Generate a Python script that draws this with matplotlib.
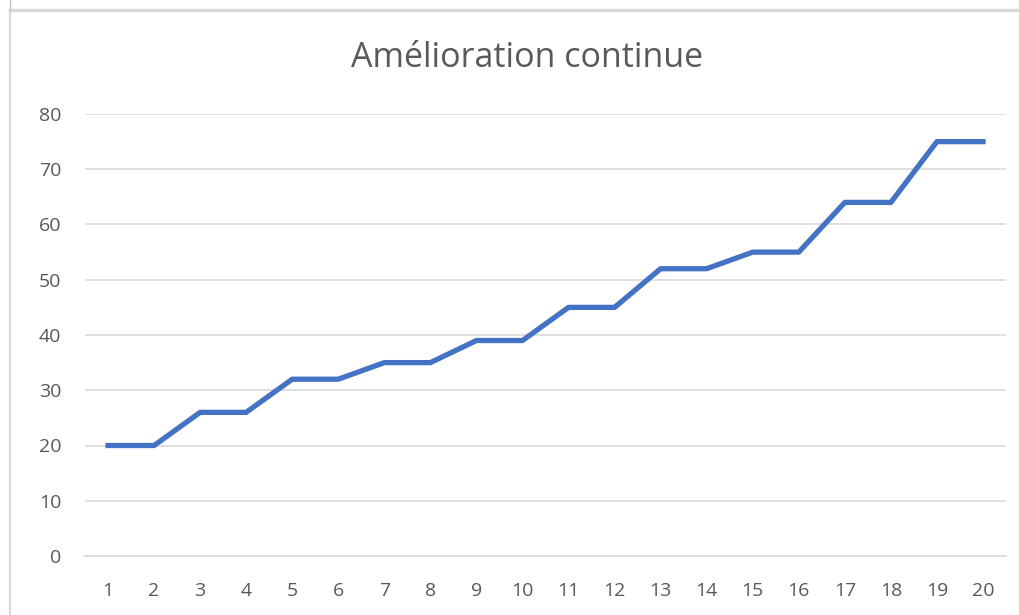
import matplotlib.pyplot as plt
from matplotlib.lines import Line2D

plt.rcParams['font.family'] = ['Open Sans', 'DejaVu Sans']

periods = list(range(1, 21))
scores = [20, 20, 26, 26, 32, 32, 35, 35, 39, 39,
          45, 45, 52, 52, 55, 55, 64, 64, 75, 75]
y_ticks = [0, 10, 20, 30, 40, 50, 60, 70, 80]

fig = plt.figure(figsize=(10.2, 6.15), dpi=100)
ax = fig.add_axes([85 / 1020, 1 - 556 / 615, 921 / 1020, (556 - 114) / 615])

ax.plot(periods, scores, color='#4472C4', linewidth=3.8, solid_joinstyle='round')

ax.set_xlim(0.5, 20.5)
ax.set_ylim(0, 80)
ax.set_xticks(periods)
ax.set_yticks(y_ticks)
ax.tick_params(length=0, labelsize=14, colors='#595959', pad=19)
ax.tick_params(axis='y', pad=17)
ax.grid(axis='y', color='#d9d9d9', linewidth=1.2)
ax.set_axisbelow(True)
for s in ['top', 'right', 'left']:
    ax.spines[s].set_visible(False)
ax.spines['bottom'].set_color('#d9d9d9')
ax.spines['bottom'].set_linewidth(1.2)

fig.text(527 / 1020, 1 - 58 / 615, 'Amélioration continue', ha='center', va='center',
         fontsize=24.5, color='#595959')

# chart area border
fig.add_artist(Line2D([10 / 1020, 1], [1 - 10 / 615] * 2, color='#d9d9d9', linewidth=2.5))
fig.add_artist(Line2D([10 / 1020] * 2, [0, 1 - 10 / 615], color='#d9d9d9', linewidth=1.5))
fig.add_artist(Line2D([10 / 1020] * 2, [1 - 10 / 615, 1], color='#bfbfbf', linewidth=1))

fig.savefig('out.png', dpi=100)
